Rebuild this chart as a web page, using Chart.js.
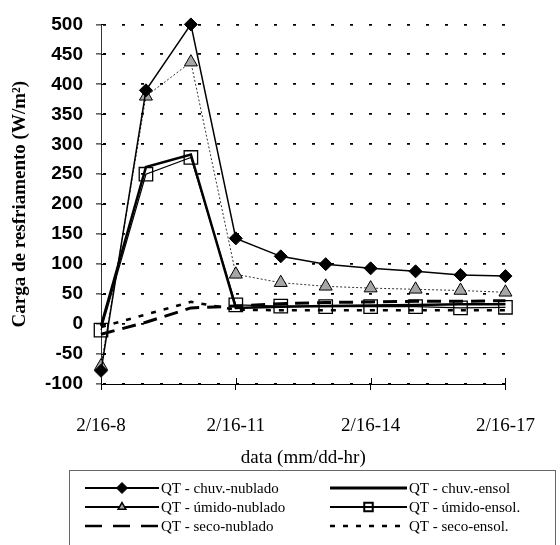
<!DOCTYPE html>
<html>
<head>
<meta charset="utf-8">
<script src="https://cdn.jsdelivr.net/npm/chart.js@4/dist/chart.umd.min.js"></script>
<style>
  html, body { margin: 0; padding: 0; background: #fff; }
  #wrap { width: 560px; height: 545px; }
</style>
</head>
<body>
<div id="wrap"><canvas id="c" width="560" height="545"></canvas></div>
<script>
// Hourly readings, 16 Feb, 08h to 17h
const hours = ['2/16-8', '2/16-9', '2/16-10', '2/16-11', '2/16-12',
               '2/16-13', '2/16-14', '2/16-15', '2/16-16', '2/16-17'];

// Cooling load (W/m²) per scenario
const qtChuvNublado  = [-78, 390, 500, 143, 113, 100, 93, 88, 82, 80];
const qtUmidoNublado = [-70, 380, 437, 83, 69, 63, 60, 58, 56, 53];
const qtSecoNublado  = [-17, 3, 27, 30, 34, 36, 37, 38, 38, 39];
const qtChuvEnsol    = [-3, 262, 283, 27, 29, 30, 31, 32, 33, 33];
const qtUmidoEnsol   = [-10, 250, 278, 32, 30, 29, 29, 29, 27, 28];
const qtSecoEnsol    = [-5, 16, 37, 24, 23, 23, 23, 23, 23, 23];

const seriesNames = ['QT - chuv.-nublado', 'QT - úmido-nublado', 'QT - seco-nublado',
                     'QT - chuv.-ensol', 'QT - úmido-ensol.', 'QT - seco-ensol.'];

const yTitle = 'Carga de resfriamento (W/m²)';
const xTitle = 'data (mm/dd-hr)';
const yMin = -100, yMax = 500, yStep = 50;
const labelEvery = 3;

const serif = '"Liberation Serif", "Times New Roman", serif';
const sans = '"Liberation Sans", Arial, sans-serif';

// Small tick marks that reach inside the plot from both axes
const innerTicks = {
  id: 'innerTicks',
  afterDraw(chart) {
    const { ctx, chartArea: a, scales: { x, y } } = chart;
    ctx.save();
    ctx.strokeStyle = '#000';
    ctx.lineWidth = 1;
    y.ticks.forEach((t, i) => {
      const py = Math.round(y.getPixelForTick(i)) + 0.5;
      ctx.beginPath(); ctx.moveTo(a.left, py); ctx.lineTo(a.left + 5, py); ctx.stroke();
    });
    x.ticks.forEach((t, i) => {
      if (i % labelEvery) return;
      const px = Math.round(x.getPixelForTick(i)) + 0.5;
      ctx.beginPath(); ctx.moveTo(px, a.bottom); ctx.lineTo(px, a.bottom - 6); ctx.stroke();
    });
    ctx.restore();
  }
};

// Boxed two-column legend below the axis title
const boxLegend = {
  id: 'boxLegend',
  afterDraw(chart, args, o) {
    const ctx = chart.ctx;
    ctx.save();
    ctx.strokeStyle = '#666';
    ctx.lineWidth = 1;
    ctx.strokeRect(o.left + 0.5, o.top + 0.5, o.right - o.left, o.bottom - o.top);
    ctx.font = o.font;
    ctx.fillStyle = '#000';
    ctx.textBaseline = 'middle';
    ctx.textAlign = 'left';
    chart.data.datasets.forEach((ds, i) => {
      const col = Math.floor(i / 3), row = i % 3;
      const x0 = o.colX[col], x1 = x0 + o.sample[col], yy = o.rowY[row];
      ctx.save();
      ctx.strokeStyle = '#000';
      ctx.lineWidth = ds.legendWidth;
      ctx.setLineDash(ds.legendDash || []);
      ctx.beginPath(); ctx.moveTo(x0, yy); ctx.lineTo(x1, yy); ctx.stroke();
      ctx.restore();
      if (ds.pointRadius > 0 && Chart.helpers && Chart.helpers.drawPoint) {
        ctx.save();
        ctx.fillStyle = ds.pointBackgroundColor;
        ctx.strokeStyle = ds.pointBorderColor;
        ctx.lineWidth = ds.legendPointBorder;
        ctx.setLineDash([]);
        Chart.helpers.drawPoint(ctx, { pointStyle: ds.pointStyle, radius: ds.legendRadius, rotation: 0, borderWidth: ds.legendPointBorder }, (x0 + x1) / 2, yy);
        ctx.restore();
      }
      ctx.fillText(ds.label, x1 + 2, yy + 1);
    });
    ctx.restore();
  }
};

const plain = { pointRadius: 0, pointHoverRadius: 0 };

new Chart(document.getElementById('c'), {
  type: 'line',
  data: {
    labels: hours,
    datasets: [
      { label: seriesNames[0], data: qtChuvNublado, borderColor: '#000', borderWidth: 1.5,
        pointStyle: 'rectRot', pointRadius: 6.5, pointBackgroundColor: '#000', pointBorderColor: '#000', pointBorderWidth: 1,
        legendWidth: 2, legendRadius: 5.5, legendPointBorder: 1 },
      { label: seriesNames[1], data: qtUmidoNublado, borderColor: '#333', borderWidth: 1, borderDash: [2, 2],
        pointStyle: 'triangle', pointRadius: 7.5, pointBackgroundColor: '#a6a6a6', pointBorderColor: '#000', pointBorderWidth: 1,
        legendWidth: 2, legendRadius: 4.5, legendPointBorder: 1.5 },
      { label: seriesNames[2], data: qtSecoNublado, borderColor: '#000', borderWidth: 3, borderDash: [14, 8], ...plain,
        legendWidth: 2.5, legendDash: [17, 11] },
      { label: seriesNames[3], data: qtChuvEnsol, borderColor: '#000', borderWidth: 2.5, ...plain,
        legendWidth: 3 },
      { label: seriesNames[4], data: qtUmidoEnsol, borderColor: '#000', borderWidth: 1.2,
        pointStyle: 'rect', pointRadius: 9.5, pointBackgroundColor: 'rgba(0,0,0,0)', pointBorderColor: '#000', pointBorderWidth: 1.3,
        legendWidth: 2, legendRadius: 6, legendPointBorder: 2 },
      { label: seriesNames[5], data: qtSecoEnsol, borderColor: '#000', borderWidth: 2.5, borderDash: [5, 8], ...plain,
        legendWidth: 2.5, legendDash: [5, 8] }
    ].map(d => Object.assign({ tension: 0, fill: false, clip: false }, d))
  },
  options: {
    responsive: false,
    animation: false,
    events: [],
    layout: { padding: { top: 22, right: 35, bottom: 71, left: 0 } },
    plugins: {
      legend: { display: false },
      tooltip: { enabled: false },
      boxLegend: {
        left: 69, right: 555, top: 470, bottom: 560,
        colX: [85, 330], sample: [74, 77], rowY: [488, 507, 526],
        font: '15px ' + serif
      }
    },
    scales: {
      x: {
        type: 'category',
        offset: false,
        ticks: {
          autoSkip: false, maxRotation: 0, color: '#000', padding: 25,
          font: { family: serif, size: 19 },
          callback(v, i) { return i % labelEvery === 0 ? this.getLabelForValue(v) : ''; }
        },
        grid: {
          drawOnChartArea: false, tickLength: 6, tickWidth: 1,
          tickColor: c => (c.index % labelEvery === 0 ? '#000' : 'rgba(0,0,0,0)')
        },
        border: { display: true, color: '#000', width: 1 },
        title: { display: true, text: xTitle, color: '#000', font: { family: serif, size: 19 }, padding: { top: 0, bottom: 5 } },
        afterFit(s) { s.height = 90; }
      },
      y: {
        min: yMin, max: yMax,
        ticks: { stepSize: yStep, color: '#000', padding: 13, font: { family: sans, size: 19, weight: 'bold' } },
        grid: { color: '#000', lineWidth: 1.8, tickLength: 5, tickWidth: 1, tickColor: '#000' },
        border: { display: true, color: '#333', width: 1, dash: [3, 16], dashOffset: -1 },
        title: { display: true, text: yTitle, color: '#000', font: { family: serif, size: 19, weight: 'bold' }, padding: { top: 9, bottom: 0 } },
        afterFit(s) { s.width = 101; }
      }
    }
  },
  plugins: [innerTicks, boxLegend]
});
</script>
</body>
</html>
